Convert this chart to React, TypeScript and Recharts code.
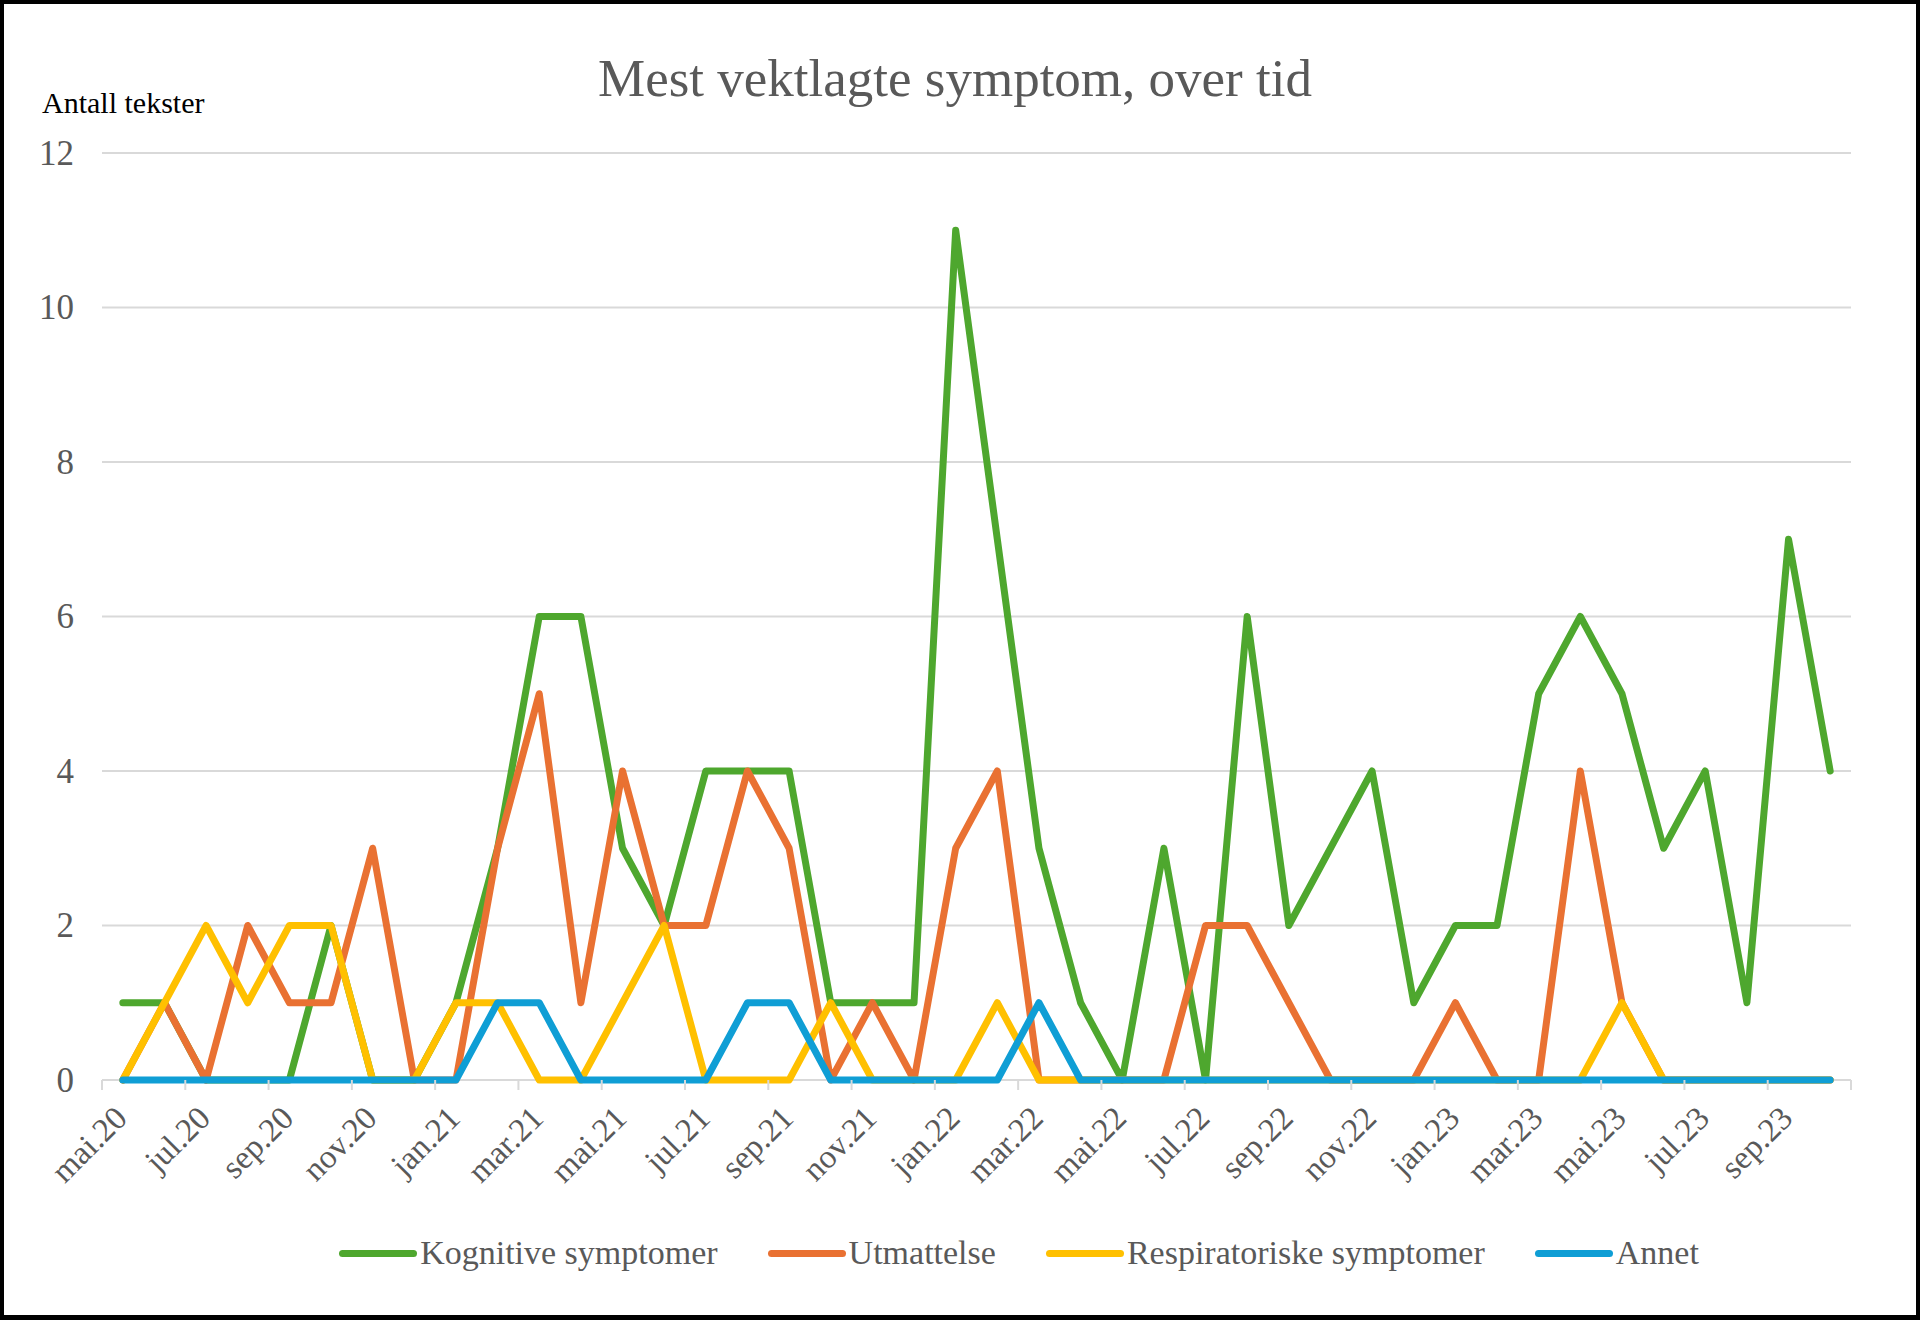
import React from 'react';
import { LineChart, Line, XAxis, YAxis, CartesianGrid, Legend } from 'recharts';

const months = ['mai.20','jun.20','jul.20','aug.20','sep.20','okt.20','nov.20','des.20','jan.21','feb.21','mar.21','apr.21','mai.21','jun.21','jul.21','aug.21','sep.21','okt.21','nov.21','des.21','jan.22','feb.22','mar.22','apr.22','mai.22','jun.22','jul.22','aug.22','sep.22','okt.22','nov.22','des.22','jan.23','feb.23','mar.23','apr.23','mai.23','jun.23','jul.23','aug.23','sep.23','okt.23'];

const kognitive = [1,1,0,0,0,2,0,0,1,3,6,6,3,2,4,4,4,1,1,1,11,7,3,1,0,3,0,6,2,3,4,1,2,2,5,6,5,3,4,1,7,4];
const utmattelse = [0,1,0,2,1,1,3,0,0,3,5,1,4,2,2,4,3,0,1,0,3,4,0,0,0,0,2,2,1,0,0,0,1,0,0,4,1,0,0,0,0,0];
const respiratoriske = [0,1,2,1,2,2,0,0,1,1,0,0,1,2,0,0,0,1,0,0,0,1,0,0,0,0,0,0,0,0,0,0,0,0,0,0,1,0,0,0,0,0];
const annet = [0,0,0,0,0,0,0,0,0,1,1,0,0,0,0,1,1,0,0,0,0,0,1,0,0,0,0,0,0,0,0,0,0,0,0,0,0,0,0,0,0,0];

const yTicks = [0, 2, 4, 6, 8, 10, 12];

const seriesNames = ['Kognitive symptomer', 'Utmattelse', 'Respiratoriske symptomer', 'Annet'];
const seriesKeys = ['kognitive', 'utmattelse', 'respiratoriske', 'annet'];
const seriesColors = ['#4EA72E', '#E97132', '#FFC000', '#0F9ED5'];

const data = months.map((m, i) => ({
  month: m,
  kognitive: kognitive[i],
  utmattelse: utmattelse[i],
  respiratoriske: respiratoriske[i],
  annet: annet[i],
}));

const W = 1920;
const H = 1320;
const PLOT_LEFT = 102;
const PLOT_RIGHT = 1851;
const PLOT_TOP = 153;
const PLOT_W = PLOT_RIGHT - PLOT_LEFT;
const BAND = PLOT_W / months.length;
const HALF = BAND / 2;
const FONT = "'Liberation Serif', 'Times New Roman', serif";
const GRID = '#d9d9d9';
const TEXT = '#595959';

const XTick = (props: any) => {
  const { x, y, payload } = props;
  const idx = typeof payload.index === 'number' ? payload.index : months.indexOf(payload.value);
  const lastShown = months.length - 1 - ((months.length - 1) % 2);
  return (
    <g>
      <line x1={x - HALF} x2={x - HALF} y1={y} y2={y + 10} stroke={GRID} strokeWidth={2} />
      {idx === lastShown && (
        <line
          x1={x + (months.length - 1 - idx) * BAND + HALF}
          x2={x + (months.length - 1 - idx) * BAND + HALF}
          y1={y}
          y2={y + 10}
          stroke={GRID}
          strokeWidth={2}
        />
      )}
      <text
        x={x + 6}
        y={y + 40}
        textAnchor="end"
        transform={`rotate(-45 ${x + 6} ${y + 40})`}
        fontFamily={FONT}
        fontSize={33}
        fill={TEXT}
      >
        {payload.value}
      </text>
    </g>
  );
};

const YTick = (props: any) => {
  const { x, y, payload } = props;
  return (
    <text x={x} y={y} textAnchor="end" dominantBaseline="central" fontFamily={FONT} fontSize={35} fill={TEXT}>
      {payload.value}
    </text>
  );
};

const renderLegend = () => (
  <div
    style={{
      display: 'flex',
      justifyContent: 'center',
      alignItems: 'center',
      gap: 50,
      height: 60,
      width: W,
      paddingLeft: 118,
      boxSizing: 'border-box',
      fontFamily: FONT,
      fontSize: 34,
      color: TEXT,
    }}
  >
    {seriesNames.map((name, i) => (
      <div key={name} style={{ display: 'flex', alignItems: 'center', whiteSpace: 'nowrap' }}>
        <span
          style={{
            display: 'inline-block',
            width: 78,
            height: 7,
            borderRadius: 3.5,
            background: seriesColors[i],
            marginRight: 3,
          }}
        />
        <span>{name}</span>
      </div>
    ))}
  </div>
);

export default function App() {
  return (
    <div style={{ position: 'absolute', top: 0, left: 0, width: W, height: H, background: '#fff', overflow: 'hidden' }}>
      <LineChart
        width={W}
        height={H}
        data={data}
        margin={{ top: PLOT_TOP, right: W - PLOT_RIGHT, left: 0, bottom: 37 }}
      >
        <CartesianGrid vertical={false} stroke={GRID} strokeWidth={2} />
        <XAxis
          dataKey="month"
          interval={1}
          height={143}
          tickLine={false}
          tickSize={0}
          tickMargin={0}
          axisLine={false}
          padding={{ left: HALF, right: HALF }}
          tick={<XTick />}
        />
        <YAxis
          width={PLOT_LEFT}
          domain={[0, 12]}
          ticks={yTicks}
          axisLine={false}
          tickLine={false}
          tickSize={0}
          tickMargin={28}
          tick={<YTick />}
        />
        <Legend
          verticalAlign="bottom"
          content={renderLegend}
          wrapperStyle={{ top: 1223, left: 0, width: W, height: 60 }}
        />
        {seriesKeys.map((k, i) => (
          <Line
            key={k}
            type="linear"
            dataKey={k}
            name={seriesNames[i]}
            stroke={seriesColors[i]}
            strokeWidth={7}
            strokeLinejoin="round"
            strokeLinecap="round"
            dot={false}
            activeDot={false}
            isAnimationActive={false}
          />
        ))}
      </LineChart>
      <svg width={W} height={H} style={{ position: 'absolute', top: 0, left: 0, pointerEvents: 'none' }}>
        <text x={955} y={96} textAnchor="middle" fontFamily={FONT} fontSize={53} fill={TEXT}>
          Mest vektlagte symptom, over tid
        </text>
        <text x={42} y={113} fontFamily={FONT} fontSize={30} fill="#000">
          Antall tekster
        </text>
      </svg>
      <div
        style={{
          position: 'absolute',
          top: 0,
          left: 0,
          width: W,
          height: H,
          boxSizing: 'border-box',
          borderStyle: 'solid',
          borderColor: '#000',
          borderWidth: '4px 4px 5px 4px',
          pointerEvents: 'none',
        }}
      />
    </div>
  );
}
